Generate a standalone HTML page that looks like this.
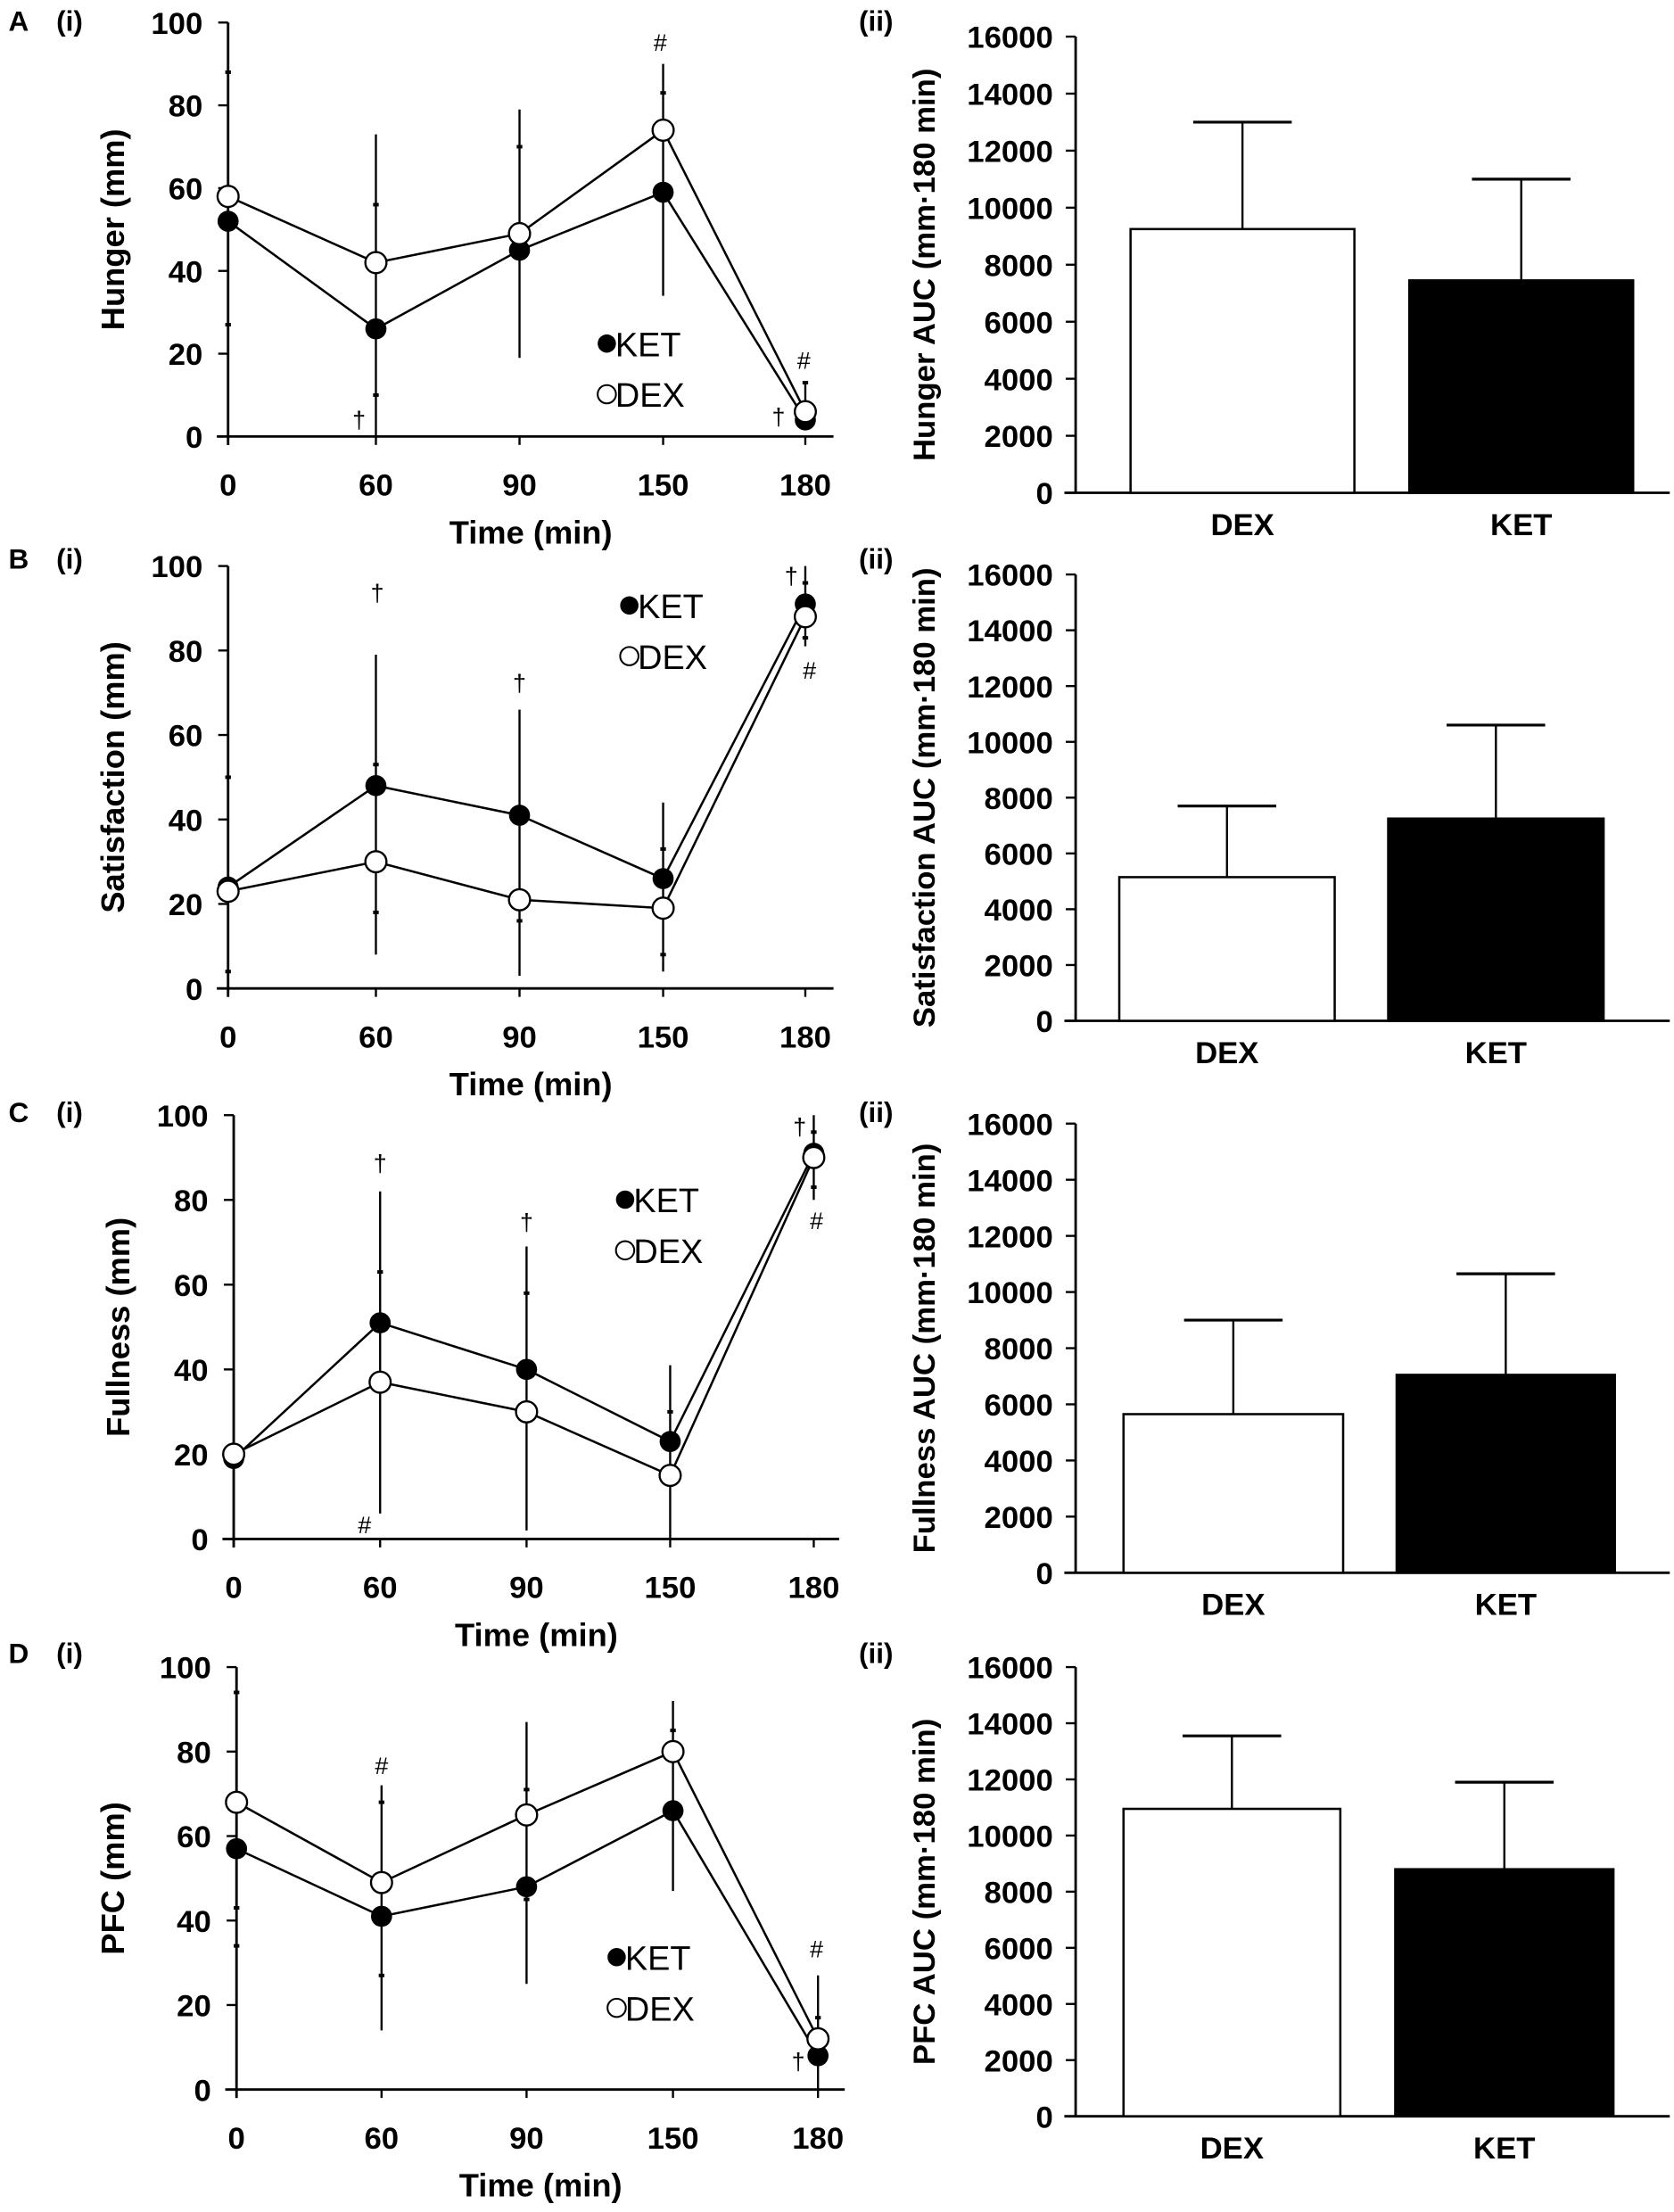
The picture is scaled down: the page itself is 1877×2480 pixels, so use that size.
<!DOCTYPE html>
<html><head><meta charset="utf-8"><style>
html,body{margin:0;padding:0;background:#fff;}
svg{display:block;}
text{font-family:"Liberation Sans Narrow","Liberation Sans",sans-serif;font-weight:bold;fill:#000;}
</style></head><body>
<svg id="s" width="1877" height="2480" viewBox="0 0 1189 1571" preserveAspectRatio="none" xmlns="http://www.w3.org/2000/svg"></svg>
<script>
var S=document.getElementById('s'),h='';
function T(x,y,t,sz,anc,extra){h+='<text x="'+x+'" y="'+y+'" font-size="'+sz+'" text-anchor="'+(anc||'start')+'" '+(extra||'')+'>'+t+'</text>';}
function L(x1,y1,x2,y2,w){h+='<line x1="'+x1+'" y1="'+y1+'" x2="'+x2+'" y2="'+y2+'" stroke="#000" stroke-width="'+(w||1.5)+'"/>';}
function line(P){
  var ax=P.ax,y0=P.y0,y1=P.y1,xs=P.xs;
  function Y(v){return y0-(y0-y1)*v/100;}
  L(ax,y1,ax,y0+6,1.8);L(ax-8,y0,P.xend,y0,1.8);
  for(var i=0;i<=5;i++){var yy=Y(i*20);L(ax-7,yy,ax,yy,1.5);T(ax-18,yy+8,i*20,22,'end');}
  xs.forEach(function(x,i){L(x,y0,x,y0+6,1.5);T(x,y0+42,[0,60,90,150,180][i],22,'middle');});
  T((ax+P.xend)/2,y0+76,'Time (min)',23,'middle');
  T(P.ylx,(y0+y1)/2,P.yl,23,'middle','transform="rotate(-90 '+P.ylx+' '+(y0+y1)/2+')"');
  P.err.forEach(function(e){var x=xs[e[0]];L(x,Y(e[1]),x,Y(e[2]),1.5);
    (e[3]||[]).forEach(function(m){L(x-2,Y(m),x+2,Y(m),2.5);});});
  var pk='',pd='';
  xs.forEach(function(x,i){pk+=(i?'L':'M')+x+' '+Y(P.k[i]);pd+=(i?'L':'M')+x+' '+Y(P.d[i]);});
  h+='<path d="'+pk+'" fill="none" stroke="#000" stroke-width="1.6"/><path d="'+pd+'" fill="none" stroke="#000" stroke-width="1.6"/>';
  xs.forEach(function(x,i){h+='<circle cx="'+x+'" cy="'+Y(P.k[i])+'" r="7.5" fill="#000"/>';});
  xs.forEach(function(x,i){h+='<circle cx="'+x+'" cy="'+Y(P.d[i])+'" r="7.5" fill="#fff" stroke="#000" stroke-width="1.5"/>';});
  P.ann.forEach(function(a){T(a[0],a[1],a[2],17,'middle','style="font-weight:normal"');});
  var lx=P.leg[0],ly=P.leg[1];
  h+='<circle cx="'+lx+'" cy="'+ly+'" r="6.5" fill="#000"/>';T(lx+6,ly+9,'KET',24,'start','style="font-weight:normal"');
  h+='<circle cx="'+lx+'" cy="'+(ly+36)+'" r="6.5" fill="#fff" stroke="#000" stroke-width="1.3"/>';T(lx+6,ly+45,'DEX',24,'start','style="font-weight:normal"');
}
function bar(P){
  var ax=P.ax,y0=P.y0,y1=P.y1;
  function Y(v){return y0-(y0-y1)*v/16000;}
  L(ax,y1,ax,y0,1.8);L(ax-8,y0,1186,y0,1.8);
  for(var i=0;i<=8;i++){var yy=Y(i*2000);L(ax-7,yy,ax,yy,1.5);T(ax-16,yy+8,i*2000,22,'end');}
  var bx=[[P.b[0],P.b[1]],[P.b[2],P.b[3]]];
  [[P.d[0],P.d[1],'#fff'],[P.k[0],P.k[1],'#000']].forEach(function(b,i){
    var x0=bx[i][0],x1=bx[i][1],c=(x0+x1)/2;
    L(c,Y(b[0]),c,Y(b[1]),1.5);L(c-35,Y(b[1]),c+35,Y(b[1]),2);
    h+='<rect x="'+x0+'" y="'+Y(b[0])+'" width="'+(x1-x0)+'" height="'+(y0-Y(b[0]))+'" fill="'+b[2]+'" stroke="#000" stroke-width="1.6"/>';
    T(c,y0+30,i?'KET':'DEX',22,'middle');
  });
  var cy=(y0+y1)/2;
  T(P.ylx,cy,P.yl,22,'middle','transform="rotate(-90 '+P.ylx+' '+cy+')"');
}
function lab(l,y){T(6,y,l,20);T(40,y,'(i)',20);T(610,y,'(ii)',20);}
lab('A',22);lab('B',404);lab('C',797);lab('D',1181);
var xsA=[162,267,369,471,572];
line({ax:162,y0:310,y1:16,xend:592,xs:xsA,yl:'Hunger (mm)',ylx:88,
 k:[52,26,45,59,4],d:[58,42,49,74,6],
 err:[[0,52,88,[88,27]],[1,0,73,[56,10]],[2,19,79,[70]],[3,34,90,[83]],[4,4,13,[13]]],
 ann:[[255,304,'†'],[469,36,'#'],[571,262,'#'],[553,302,'†']],leg:[431,244]});
bar({ax:764,y0:350,y1:26,b:[803,962,1001,1160],d:[9250,13000],k:[7450,11000],yl:'Hunger AUC (mm·180 min)',ylx:664});
var xsB=[162,267,369,471,572];
line({ax:162,y0:702,y1:402,xend:592,xs:xsB,yl:'Satisfaction (mm)',ylx:88,
 k:[24,48,41,26,91],d:[23,30,21,19,88],
 err:[[0,4,50,[50,4]],[1,8,79,[53,18]],[2,3,66,[16]],[3,4,44,[33,8]],[4,81,100,[96,83]]],
 ann:[[268,427,'†'],[369,491,'†'],[562,415,'†'],[575,482,'#']],leg:[447,430]});
bar({ax:764,y0:725,y1:408,b:[795,948,986,1139],d:[5150,7700],k:[7250,10600],yl:'Satisfaction AUC (mm·180 min)',ylx:664});
var xsC=[166,270,374,476,578];
line({ax:166,y0:1093,y1:792,xend:596,xs:xsC,yl:'Fullness (mm)',ylx:92,
 k:[19,51,40,23,91],d:[20,37,30,15,90],
 err:[[0,0,40,[]],[1,6,82,[63]],[2,2,69,[58]],[3,0,41,[30]],[4,80,100,[96,83]]],
 ann:[[270,832,'†'],[259,1089,'#'],[374,874,'†'],[568,806,'†'],[580,873,'#']],leg:[444,852]});
bar({ax:764,y0:1117,y1:798,b:[798,954,992,1147],d:[5650,9000],k:[7050,10650],yl:'Fullness AUC (mm·180 min)',ylx:664});
var xsD=[168,271,374,478,581];
line({ax:168,y0:1484,y1:1184,xend:600,xs:xsD,yl:'PFC (mm)',ylx:88,
 k:[57,41,48,66,8],d:[68,49,65,80,12],
 err:[[0,34,94,[94,43,34]],[1,14,72,[68,27]],[2,25,87,[71,45]],[3,47,92,[85]],[4,0,27,[17]]],
 ann:[[271,1260,'#'],[580,1390,'#'],[567,1470,'†']],leg:[438,1390]});
bar({ax:764,y0:1503,y1:1184,b:[798,952,991,1146],d:[10950,13550],k:[8800,11900],yl:'PFC AUC (mm·180 min)',ylx:664});
S.innerHTML=h;
</script>
</body></html>
